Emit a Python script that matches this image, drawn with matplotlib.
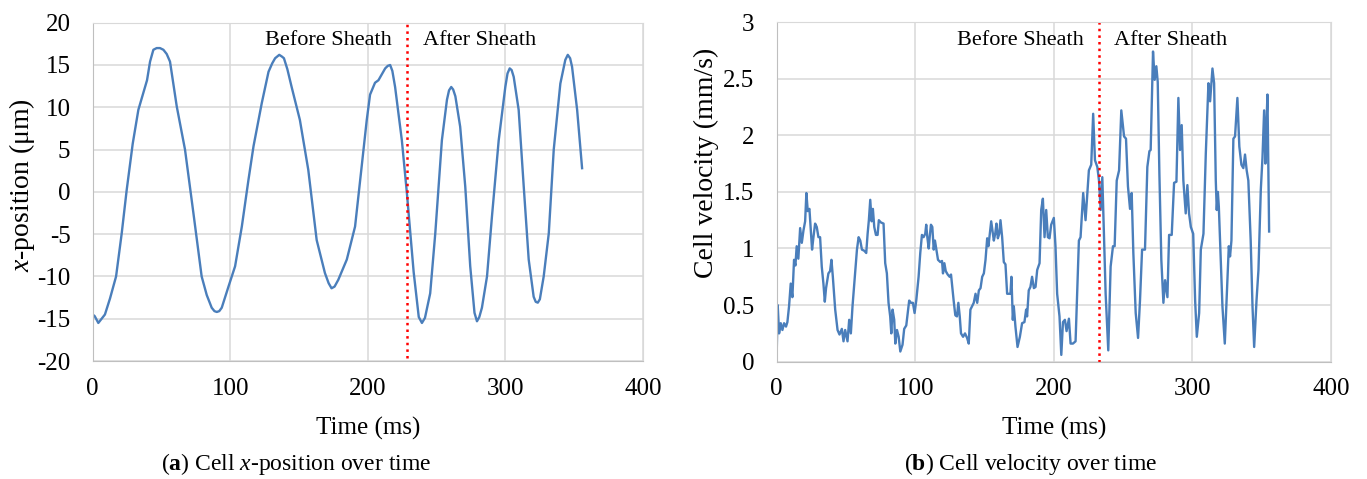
import matplotlib.pyplot as plt

plt.rcParams['font.family'] = ['Liberation Serif', 'DejaVu Serif']
plt.rcParams['mathtext.fontset'] = 'custom'
plt.rcParams['mathtext.rm'] = 'Liberation Serif'
plt.rcParams['mathtext.it'] = 'Liberation Serif:italic'
plt.rcParams['mathtext.bf'] = 'Liberation Serif:bold'
plt.rcParams['axes.unicode_minus'] = False

# (a) x-position (um) vs time (ms)
t_pos = [0, 1.5, 4.1, 6.5, 8.9, 12.6, 17, 21.1, 24.7, 29.1, 33.2, 36.8, 39.5, 41.7, 44.1, 46.5,
         48.9, 51.4, 53.8, 56.2, 61.1, 67.1, 73.2, 79.2, 82.9, 86.5, 88.5, 90.2, 92.0, 93.8,
         98.7, 103.5, 108.4, 113.2, 116.9, 122.9, 127.8, 130.5, 132.6, 135.6, 137.5, 139.0,
         141.5, 144.6, 150.6, 156.7, 162.8, 168.8, 171.5, 173.6, 175.8, 178.5, 184.7, 190.7,
         195.5, 199.2, 201.6, 205.2, 207.7, 210.5, 212.6, 214.5, 216.2, 217.8, 219.8, 224.7,
         228.4, 233.3, 237.0, 239.3, 241.5, 245.3, 249.0, 253.8, 257.5, 259.0, 260.6, 262.0,
         263.6, 267.1, 270.8, 274.4, 277.5, 279.3, 281.0, 282.9, 286.6, 290.2, 295.1, 299.9,
         301.5, 303.1, 304.5, 306.0, 309.6, 313.3, 316.9, 320.5, 322.0, 323.5, 325.0, 327.8,
         331.5, 335.1, 339.9, 343.5, 345.3, 347.0, 348.4, 352.1, 355.7]
x_pos = [-14.5, -14.7, -15.5, -15.0, -14.5, -12.6, -10.0, -4.9, 0.2, 5.7, 9.7, 11.7, 13.2, 15.4,
         16.8, 17.0, 17.0, 16.8, 16.3, 15.4, 10.1, 5.0, -2.5, -10.0, -12.2, -13.7, -14.1,
         -14.2, -14.1, -13.7, -11.2, -8.8, -4.1, 1.4, 5.4, 10.5, 14.2, 15.2, 15.8, 16.2,
         16.0, 15.8, 14.5, 12.4, 8.5, 2.6, -5.7, -9.6, -10.8, -11.4, -11.2, -10.4, -8.0,
         -4.1, 3.0, 8.5, 11.5, 12.9, 13.2, 14.0, 14.6, 14.9, 15.0, 14.3, 12.4, 6.1, -0.2,
         -9.5, -14.8, -15.5, -14.9, -12.0, -4.9, 6.1, 10.9, 12.0, 12.4, 12.1, 11.3, 7.7,
         0.6, -8.8, -14.3, -15.3, -14.8, -13.7, -10.0, -2.9, 6.1, 12.4, 14.0, 14.6, 14.4,
         13.6, 9.7, 0.6, -8.0, -12.4, -13.0, -13.1, -12.7, -10.0, -4.9, 5.0, 12.8, 15.6,
         16.2, 15.8, 14.8, 9.7, 2.8]

# (b) velocity (mm/s) vs time (ms)
t_vel = [0, 0.7, 1.7, 2.9, 4.1, 5.3, 6.7, 7.7, 8.9, 10.1, 11.3, 12.5, 13.5, 14.4, 15.6,
         16.9, 18.1, 19.3, 20.5, 21.4, 22.4, 23.6, 24.6, 25.5, 26.5, 27.7, 28.9, 30.1,
         31.3, 32.5, 33.7, 34.7, 35.6, 37.3, 38.5, 39.5, 40.5, 42.2, 43.9, 45.3, 47.0,
         48.2, 49.4, 51.1, 52.3, 53.5, 54.7, 56.2, 57.9, 59.1, 60.3, 61.5, 63.2, 64.6,
         65.6, 66.5, 67.5, 68.5, 69.4, 70.4, 71.6, 72.8, 73.7, 75.2, 77.1, 78.3, 79.5,
         80.7, 81.9, 82.7, 83.6, 84.8, 85.6, 86.8, 88.0, 89.2, 90.8, 92.0, 93.5, 95.6,
         96.9, 98.3, 99.5, 100.7, 102.4, 103.6, 104.8, 106.0, 107.2, 107.9, 108.7,
         109.7, 110.4, 111.3, 112.3, 113.3, 114.2, 115.2, 116.4, 118.1, 119.3, 120.0,
         121.0, 122.0, 123.4, 124.8, 125.8, 127.0, 127.7, 128.9, 130.1, 131.1, 132.1,
         133.0, 134.5, 135.9, 137.4, 138.6, 139.8, 141.0, 142.2, 143.5, 144.7, 145.9,
         147.1, 148.3, 149.5, 150.7, 151.9, 152.8, 153.8, 154.8, 155.7, 156.7, 157.7,
         158.6, 159.6, 160.6, 161.5, 162.7, 163.9, 165.1, 166.3, 167.5, 168.7, 169.4,
         170.4, 171.1, 172.3, 173.8, 175.5, 177.1, 178.8, 180.0, 180.7, 181.9, 183.1,
         184.3, 185.6, 186.8, 188.0, 189.7, 190.9, 192.1, 193.3, 194.5, 195.7, 196.9,
         198.1, 200.0, 201.2, 202.4, 204.1, 205.4, 206.6, 208.0, 209.2, 210.9, 212.1,
         213.8, 215.7, 216.9, 218.1, 219.3, 221.2, 222.9, 225.3, 227.0, 228.4, 229.7,
         231.4, 232.6, 233.8, 235.0, 236.2, 237.4, 239.3, 241.0, 242.7, 243.9, 245.4,
         247.1, 248.7, 250.7, 252.1, 253.5, 255.0, 256.2, 257.4, 259.1, 260.8, 262.2,
         263.7, 265.8, 267.5, 269.0, 269.9, 271.6, 272.8, 274.0, 275.0, 276.2, 277.6,
         279.1, 280.3, 282.0, 283.2, 285.1, 286.8, 288.5, 289.9, 291.1, 292.3, 293.5,
         295.2, 296.4, 297.6, 298.9, 300.6, 302.0, 303.2, 304.9, 306.1, 308.0, 309.7,
         311.6, 312.8, 314.5, 315.7, 316.9, 317.6, 318.4, 319.1, 320.5, 321.7, 323.4,
         324.8, 326.3, 327.2, 328.2, 329.6, 330.8, 332.5, 333.9, 335.4, 336.8, 338.0,
         339.2, 340.4, 342.1, 343.4, 344.6, 346.3, 347.7, 349.4, 350.6, 351.8, 352.7,
         353.5, 354.2, 355.4]
v_vel = [0.09, 0.5, 0.25, 0.34, 0.28, 0.34, 0.31, 0.35, 0.49, 0.69, 0.57, 0.90, 0.85, 1.02, 0.91,
         1.18, 1.05, 1.16, 1.24, 1.49, 1.33, 1.35, 1.16, 0.99, 1.10, 1.22, 1.19, 1.10,
         1.10, 0.84, 0.69, 0.53, 0.65, 0.78, 0.80, 0.90, 0.75, 0.46, 0.28, 0.24, 0.29,
         0.18, 0.28, 0.18, 0.37, 0.25, 0.49, 0.72, 0.99, 1.10, 1.07, 0.99, 0.98, 0.96,
         1.13, 1.25, 1.43, 1.24, 1.35, 1.19, 1.12, 1.12, 1.25, 1.23, 1.22, 0.87, 0.78,
         0.52, 0.40, 0.25, 0.46, 0.37, 0.16, 0.28, 0.22, 0.09, 0.15, 0.29, 0.32, 0.54,
         0.52, 0.52, 0.43, 0.54, 0.75, 0.96, 1.12, 1.10, 1.13, 1.21, 1.10,
         1.00, 1.10, 1.21, 1.19, 0.99, 1.07, 0.99, 0.90, 0.88, 0.89, 0.78,
         0.87, 0.80, 0.77, 0.75, 0.77, 0.62, 0.54, 0.41, 0.40, 0.52, 0.40,
         0.25, 0.22, 0.25, 0.21, 0.16, 0.46, 0.49, 0.52, 0.60, 0.52, 0.63,
         0.65, 0.75, 0.78, 0.90, 1.09, 1.02, 1.13, 1.24, 1.16, 1.07, 1.13,
         1.22, 1.09, 1.13, 1.25, 1.10, 0.88, 0.86, 0.60, 0.60, 0.60, 0.75,
         0.37, 0.49, 0.31, 0.13, 0.22, 0.34, 0.35, 0.46, 0.40, 0.63, 0.66,
         0.75, 0.65, 0.66, 0.81, 0.87, 1.34, 1.44, 1.10, 1.34, 1.10, 1.09,
         1.21, 1.27, 1.02, 0.60, 0.40, 0.06, 0.35, 0.37, 0.27, 0.38, 0.16,
         0.16, 0.18, 0.63, 1.07, 1.10, 1.49, 1.25, 1.69, 1.74, 2.19, 1.78,
         1.72, 1.60, 1.34, 1.63, 1.13, 0.60, 0.10, 0.84, 1.02, 1.02, 1.60,
         1.69, 2.22, 1.99, 1.97, 1.55, 1.35, 1.49, 0.96, 0.43, 0.21, 0.54,
         0.99, 0.99, 1.72, 1.86, 1.87, 2.74, 2.49, 2.61, 2.47, 1.66, 0.90,
         0.52, 0.72, 0.57, 1.12, 1.12, 1.58, 1.59, 2.33, 1.87, 2.09, 1.60,
         1.31, 1.56, 1.31, 1.19, 1.13, 0.54, 0.22, 0.43, 0.99, 1.13, 1.84,
         2.46, 2.30, 2.59, 2.46, 1.60, 1.34, 1.50, 1.37, 0.90, 0.49, 0.16,
         0.57, 1.02, 0.93, 1.07, 1.97, 1.99, 2.33, 1.90, 1.74, 1.71, 1.83,
         1.69, 1.60, 1.07, 0.49, 0.13, 0.54, 0.81, 1.52, 1.80, 2.22, 1.75,
         2.11, 2.36, 1.15]

sheath_a = 228.5
sheath_b = 232.5
blue = '#4a7ebb'
grid_c = '#d9d9d9'

fig = plt.figure(figsize=(13.67, 4.79), dpi=100)
ax1 = fig.add_axes([0.0678, 0.2463, 0.4026, 0.7063])
ax2 = fig.add_axes([0.5682, 0.2449, 0.4054, 0.7090])

for ax in (ax1, ax2):
    ax.set_xlim(0, 400)
    ax.set_xticks([0, 100, 200, 300, 400])
    ax.grid(True, color=grid_c, linewidth=1.1)
    ax.set_axisbelow(True)
    for s in ax.spines.values():
        s.set_color(grid_c)
    ax.spines['left'].set_color('#bfbfbf')
    ax.spines['bottom'].set_color('#bfbfbf')
    ax.tick_params(length=0, labelsize=18)
    ax.tick_params(axis='y', pad=16)
    ax.tick_params(axis='x', pad=12)
    ax.set_xlabel('Time (ms)', fontsize=18)
    ax.xaxis.label.set_va('center')
    ax.yaxis.label.set_va('center')

# left panel
ax1.plot(t_pos, x_pos, color=blue, linewidth=1.7)
ax1.set_ylim(-20, 20)
ax1.set_yticks(range(-20, 21, 5))
ax1.axvline(sheath_a, ymin=0.01, ymax=1, color='red', linestyle=':', linewidth=1.8)
ax1.text(217.7, 17.9, 'Before Sheath', ha='right', va='center', fontsize=16)
ax1.text(240.4, 17.9, 'After Sheath', ha='left', va='center', fontsize=16)
ax1.set_ylabel('$x$-position (μm)', fontsize=20)
ax1.yaxis.set_label_coords(-0.128, 0.52)
ax1.xaxis.set_label_coords(0.5, -0.198)

# right panel
ax2.plot(t_vel, v_vel, color=blue, linewidth=1.7)
ax2.set_ylim(0, 3)
ax2.set_yticks([0, 0.5, 1, 1.5, 2, 2.5, 3])
ax2.set_yticklabels(['0', '0.5', '1', '1.5', '2', '2.5', '3'])
ax2.axvline(sheath_b, ymin=0.0, ymax=1, color='red', linestyle=':', linewidth=1.8)
ax2.text(221.5, 2.84, 'Before Sheath', ha='right', va='center', fontsize=16)
ax2.text(243.2, 2.84, 'After Sheath', ha='left', va='center', fontsize=16)
ax2.set_ylabel('Cell velocity (mm/s)', fontsize=20)
ax2.yaxis.set_label_coords(-0.126, 0.585)
ax2.xaxis.set_label_coords(0.5, -0.197)

fig.text(296 / 1367, 1 - 464 / 479, r'($\mathbf{a}$) Cell $x$-position over time',
         ha='center', va='center', fontsize=17)
fig.text(1031 / 1367, 1 - 464 / 479, r'($\mathbf{b}$) Cell velocity over time',
         ha='center', va='center', fontsize=17)

plt.savefig('out.png')
